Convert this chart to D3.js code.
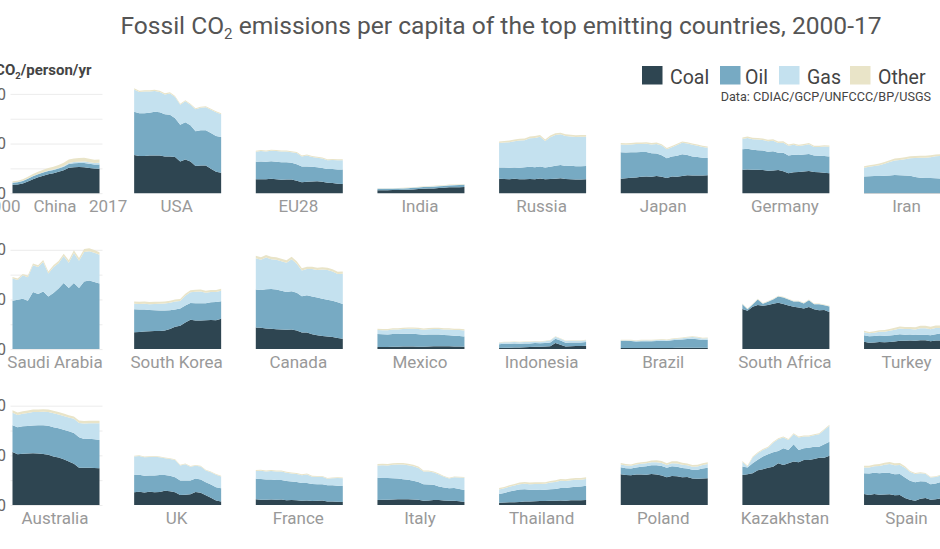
<!DOCTYPE html>
<html><head><meta charset="utf-8">
<script src="https://cdn.jsdelivr.net/npm/d3@7"></script>
<style>
body{margin:0;background:#fff;overflow:hidden}
svg{display:block;font-family:Roboto,"Open Sans",sans-serif}
</style>
</head><body><svg id="chart" width="940" height="549"></svg>
<script>
const years = [2000,2001,2002,2003,2004,2005,2006,2007,2008,2009,2010,2011,2012,2013,2014,2015,2016,2017];
const countries = ["China","USA","EU28","India","Russia","Japan","Germany","Iran",
  "Saudi Arabia","South Korea","Canada","Mexico","Indonesia","Brazil","South Africa","Turkey",
  "Australia","UK","France","Italy","Thailand","Poland","Kazakhstan","Spain"];
const fuels = ["Coal","Oil","Gas","Other"];
const yTickValues = [0,10,20];
const gridValues = [0,5,10,15,20];
const titleText = ["Fossil CO","2"," emissions per capita of the top emitting countries, 2000-17"];
const unitText = ["tCO","2","/person/yr"];
const sourceText = "Data: CDIAC/GCP/UNFCCC/BP/USGS";

const coal = {
  "China":[1.68,1.75,1.95,2.35,2.8,3.2,3.5,3.8,4.0,4.3,4.6,5.15,5.25,5.3,5.25,5.1,4.95,4.9],
  "USA":[7.7,7.5,7.5,7.6,7.6,7.6,7.4,7.4,7.3,6.4,6.8,6.4,5.5,5.6,5.6,4.9,4.3,4.1],
  "EU28":[2.8,2.8,2.8,2.9,2.8,2.7,2.75,2.75,2.5,2.2,2.3,2.35,2.4,2.3,2.1,2.05,1.9,1.85],
  "India":[0.6,0.6,0.61,0.63,0.66,0.69,0.72,0.77,0.83,0.9,0.93,0.96,1.05,1.1,1.2,1.2,1.22,1.25],
  "Russia":[2.9,2.85,2.8,2.9,2.8,2.8,2.85,2.8,2.95,2.8,2.85,2.9,3.0,2.85,2.8,2.75,2.75,2.8],
  "Japan":[2.9,3.0,3.1,3.15,3.3,3.35,3.3,3.45,3.3,3.05,3.35,3.3,3.45,3.6,3.55,3.55,3.55,3.6],
  "Germany":[4.7,4.75,4.7,4.7,4.65,4.5,4.55,4.65,4.4,4.0,4.2,4.25,4.35,4.45,4.25,4.2,4.1,4.0],
  "Iran":[0.05,0.05,0.05,0.05,0.05,0.05,0.05,0.05,0.05,0.05,0.05,0.05,0.05,0.05,0.05,0.05,0.05,0.05],
  "Saudi Arabia":[0,0,0,0,0,0,0,0,0,0,0,0,0,0,0,0,0,0],
  "South Korea":[3.4,3.45,3.55,3.6,3.65,3.65,3.75,4.05,4.5,4.7,5.35,5.9,5.75,5.75,5.8,5.85,5.8,6.1],
  "Canada":[4.35,4.3,4.15,4.1,4.0,3.95,3.9,3.95,3.75,3.35,3.35,3.0,2.8,2.65,2.55,2.45,2.25,2.1],
  "Mexico":[0.4,0.4,0.4,0.45,0.45,0.5,0.5,0.5,0.45,0.45,0.5,0.55,0.55,0.55,0.55,0.5,0.5,0.45],
  "Indonesia":[0.2,0.25,0.25,0.3,0.3,0.35,0.4,0.45,0.45,0.5,0.55,1.25,0.9,0.5,0.55,0.6,0.6,0.65],
  "Brazil":[0.22,0.22,0.22,0.22,0.24,0.24,0.23,0.24,0.24,0.2,0.24,0.25,0.26,0.27,0.28,0.27,0.25,0.27],
  "South Africa":[8.1,7.7,8.55,8.9,8.75,8.9,9.15,9.35,9.1,8.8,8.55,8.4,8.2,8.5,8.05,7.8,7.9,7.45],
  "Turkey":[1.5,1.3,1.35,1.45,1.4,1.45,1.55,1.7,1.7,1.75,1.7,1.8,1.8,1.6,1.75,1.75,1.9,2.0],
  "Australia":[10.7,10.2,10.3,10.35,10.4,10.35,10.25,10.1,9.75,9.55,9.2,8.75,8.3,7.5,7.5,7.5,7.45,7.4],
  "UK":[2.55,2.65,2.5,2.65,2.55,2.6,2.85,2.75,2.55,2.0,2.05,2.15,2.6,2.45,1.95,1.45,0.9,0.7],
  "France":[1.15,1.05,1.05,1.1,1.05,1.1,0.95,1.0,0.95,0.85,0.9,0.8,0.85,0.9,0.7,0.7,0.65,0.6],
  "Italy":[1.0,1.05,1.05,1.1,1.15,1.15,1.15,1.1,1.05,0.85,0.9,1.0,1.0,0.9,0.85,0.85,0.75,0.6],
  "Thailand":[0.45,0.5,0.55,0.55,0.6,0.7,0.7,0.75,0.8,0.8,0.85,0.85,0.9,0.85,0.95,0.95,0.95,1.0],
  "Poland":[6.2,6.05,6.0,6.15,6.15,6.1,6.25,6.15,5.95,5.6,5.85,5.8,5.6,5.65,5.35,5.3,5.35,5.4],
  "Kazakhstan":[6.05,6.2,6.4,7.0,7.2,7.5,7.7,8.4,8.05,8.4,8.75,8.6,9.05,9.05,9.25,9.5,9.5,9.9],
  "Spain":[2.2,2.0,2.2,2.05,2.1,2.15,1.95,2.0,1.4,1.05,0.85,1.25,1.4,1.05,1.15,1.35,1.05,1.2]
};
const oil = {
  "China":[0.45,0.45,0.5,0.55,0.6,0.6,0.65,0.65,0.65,0.65,0.75,0.75,0.8,0.8,0.85,0.85,0.85,0.9],
  "USA":[8.7,8.6,8.6,8.6,8.8,8.7,8.5,8.4,7.8,7.4,7.5,7.3,7.0,7.1,7.1,7.2,7.2,7.2],
  "EU28":[3.55,3.6,3.55,3.55,3.55,3.55,3.5,3.4,3.35,3.2,3.1,3.0,2.85,2.8,2.75,2.8,2.85,2.9],
  "India":[0.28,0.28,0.29,0.28,0.29,0.28,0.29,0.31,0.32,0.33,0.33,0.34,0.36,0.36,0.37,0.4,0.43,0.45],
  "Russia":[2.3,2.35,2.35,2.3,2.35,2.45,2.5,2.45,2.45,2.4,2.5,2.65,2.7,2.65,2.75,2.7,2.7,2.7],
  "Japan":[5.35,5.2,5.15,5.1,5.0,4.95,4.75,4.55,4.35,4.0,4.05,4.25,4.4,4.1,3.85,3.75,3.6,3.5],
  "Germany":[4.15,4.2,4.05,3.95,3.95,3.85,3.9,3.5,3.75,3.6,3.55,3.45,3.45,3.45,3.35,3.35,3.4,3.4],
  "Iran":[3.3,3.35,3.4,3.4,3.45,3.5,3.6,3.55,3.5,3.45,3.2,3.05,3.0,3.0,2.95,2.9,2.95,3.0],
  "Saudi Arabia":[9.75,9.95,10.15,9.75,11.5,11.1,11.6,10.6,11.3,12.2,13.3,12.3,13.3,12.3,13.6,13.8,13.5,13.2],
  "South Korea":[4.65,4.55,4.45,4.3,4.15,4.1,4.0,3.8,3.5,3.5,3.45,3.4,3.5,3.5,3.45,3.6,3.7,3.55],
  "Canada":[7.65,7.6,7.9,8.0,8.0,7.8,7.6,7.7,7.6,7.3,7.5,7.6,7.6,7.5,7.4,7.3,7.2,7.0],
  "Mexico":[2.65,2.6,2.55,2.6,2.6,2.6,2.6,2.6,2.55,2.45,2.45,2.4,2.4,2.3,2.25,2.2,2.15,2.1],
  "Indonesia":[0.8,0.82,0.82,0.82,0.8,0.78,0.75,0.77,0.75,0.75,0.8,0.85,0.85,0.8,0.8,0.75,0.75,0.8],
  "Brazil":[1.45,1.45,1.4,1.32,1.35,1.35,1.35,1.4,1.45,1.42,1.55,1.62,1.68,1.75,1.8,1.7,1.6,1.62],
  "South Africa":[0.95,0.35,0.45,1.1,0.4,0.65,0.85,1.25,1.3,1.2,1.05,1.2,1.0,1.35,1.0,1.25,0.95,1.15],
  "Turkey":[1.3,1.3,1.3,1.3,1.3,1.3,1.3,1.3,1.2,1.2,1.15,1.1,1.1,1.2,1.25,1.4,1.45,1.5],
  "Australia":[5.35,5.45,5.55,5.55,5.6,5.7,5.8,5.85,5.9,5.9,5.95,6.1,6.2,6.15,5.8,5.85,5.8,5.7],
  "UK":[3.5,3.45,3.4,3.3,3.4,3.45,3.2,3.15,3.05,2.95,2.9,2.8,2.75,2.7,2.65,2.7,2.7,2.65],
  "France":[4.15,4.2,4.1,4.05,4.0,3.95,3.9,3.75,3.7,3.6,3.55,3.45,3.35,3.3,3.3,3.3,3.25,3.25],
  "Italy":[4.5,4.4,4.4,4.3,4.2,4.05,3.95,3.8,3.6,3.35,3.25,3.1,2.75,2.6,2.5,2.55,2.45,2.4],
  "Thailand":[1.75,1.9,2.15,2.35,2.5,2.45,2.35,2.3,2.2,2.25,2.3,2.35,2.5,2.55,2.6,2.75,2.8,2.9],
  "Poland":[1.4,1.35,1.35,1.4,1.55,1.7,1.75,1.85,1.9,1.9,1.95,1.9,1.85,1.7,1.75,1.8,2.0,2.1],
  "Kazakhstan":[1.7,1.35,2.0,2.1,2.55,2.7,2.9,2.5,3.4,2.7,3.5,2.5,2.4,2.5,2.5,2.25,2.75,2.85],
  "Spain":[4.2,4.35,4.3,4.35,4.4,4.3,4.25,4.25,4.15,3.85,3.75,3.55,3.35,3.15,3.2,3.25,3.35,3.4]
};
const gas = {
  "China":[0.05,0.05,0.05,0.05,0.05,0.07,0.08,0.1,0.12,0.13,0.15,0.2,0.22,0.25,0.27,0.28,0.3,0.35],
  "USA":[4.5,4.3,4.4,4.3,4.2,4.1,4.0,4.3,4.3,4.0,4.2,4.1,4.4,4.5,4.6,4.7,4.8,4.6],
  "EU28":[2.0,2.1,2.05,2.1,2.15,2.15,2.15,2.1,2.25,2.0,2.2,1.95,1.9,1.9,1.8,1.85,1.9,1.9],
  "India":[0.04,0.04,0.04,0.04,0.04,0.05,0.05,0.05,0.05,0.06,0.08,0.08,0.07,0.06,0.06,0.06,0.06,0.07],
  "Russia":[4.9,5.0,5.1,5.25,5.45,5.4,5.7,5.85,5.95,5.3,5.9,6.15,6.15,6.0,5.85,5.85,5.9,5.85],
  "Japan":[1.55,1.55,1.55,1.65,1.6,1.65,1.75,1.9,1.95,1.8,1.85,2.15,2.3,2.3,2.35,2.25,2.15,2.05],
  "Germany":[2.05,2.15,2.1,2.15,2.1,2.1,2.1,1.95,2.0,1.95,2.0,1.8,1.85,1.95,1.7,1.75,1.9,1.95],
  "Iran":[1.8,1.95,2.05,2.2,2.45,2.75,2.95,3.1,3.3,3.55,3.85,4.05,4.1,4.2,4.45,4.55,4.65,4.8],
  "Saudi Arabia":[4.45,3.95,4.7,4.7,5.4,5.45,5.95,4.65,5.2,5.1,5.45,5.1,6.05,5.5,5.95,5.9,5.9,5.8],
  "South Korea":[1.1,1.1,1.15,1.15,1.3,1.4,1.45,1.5,1.6,1.5,1.95,2.15,2.3,2.35,2.1,2.05,2.0,2.1],
  "Canada":[6.3,6.1,6.4,6.0,6.0,5.95,5.9,6.45,5.85,5.2,5.3,5.55,5.55,5.9,6.0,5.9,5.7,6.1],
  "Mexico":[0.8,0.8,0.85,0.9,0.9,0.95,1.0,1.0,1.05,1.0,1.05,1.1,1.1,1.1,1.15,1.15,1.2,1.2],
  "Indonesia":[0.3,0.3,0.3,0.3,0.3,0.3,0.3,0.3,0.3,0.35,0.4,0.4,0.35,0.35,0.35,0.35,0.35,0.35],
  "Brazil":[0.08,0.1,0.12,0.14,0.16,0.17,0.17,0.18,0.2,0.15,0.2,0.2,0.25,0.3,0.35,0.35,0.3,0.3],
  "South Africa":[0.05,0.05,0.05,0.05,0.05,0.05,0.05,0.05,0.05,0.05,0.05,0.05,0.05,0.05,0.05,0.05,0.05,0.05],
  "Turkey":[0.6,0.6,0.65,0.75,0.8,0.95,1.05,1.15,1.15,1.1,1.1,1.3,1.3,1.2,1.25,1.1,1.0,1.1],
  "Australia":[2.55,2.5,2.55,2.65,2.75,2.7,2.75,2.8,2.85,2.8,2.8,2.75,2.85,2.85,3.1,3.1,3.2,3.35],
  "UK":[3.7,3.75,3.7,3.7,3.75,3.55,3.35,3.35,3.45,3.0,3.25,2.75,2.55,2.6,2.35,2.45,2.5,2.4],
  "France":[1.55,1.65,1.6,1.7,1.7,1.7,1.65,1.6,1.6,1.55,1.7,1.45,1.5,1.5,1.3,1.4,1.55,1.55],
  "Italy":[2.45,2.55,2.5,2.7,2.8,2.95,2.9,2.9,2.8,2.55,2.6,2.45,2.4,2.2,2.0,2.2,2.35,2.5],
  "Thailand":[0.9,0.95,1.0,1.05,1.1,1.15,1.15,1.2,1.25,1.25,1.4,1.45,1.5,1.45,1.45,1.4,1.35,1.35],
  "Poland":[0.55,0.55,0.55,0.6,0.6,0.6,0.6,0.6,0.6,0.55,0.6,0.65,0.65,0.65,0.6,0.65,0.7,0.75],
  "Kazakhstan":[0.9,0.2,1.15,1.3,1.35,1.35,1.95,2.35,2.15,2.0,2.0,2.5,2.35,2.25,2.3,2.5,2.85,3.2],
  "Spain":[1.15,1.2,1.3,1.45,1.6,1.8,1.8,1.8,1.95,1.75,1.65,1.6,1.55,1.35,1.3,1.35,1.35,1.45]
};
const other = {
  "China":[0.25,0.27,0.3,0.35,0.4,0.45,0.5,0.55,0.55,0.6,0.65,0.7,0.7,0.75,0.75,0.7,0.65,0.65],
  "USA":[0.25,0.25,0.25,0.25,0.25,0.25,0.25,0.25,0.2,0.2,0.2,0.2,0.2,0.2,0.2,0.2,0.2,0.2],
  "EU28":[0.22,0.22,0.22,0.22,0.22,0.22,0.22,0.22,0.22,0.2,0.2,0.2,0.2,0.2,0.2,0.2,0.2,0.2],
  "India":[0.05,0.05,0.06,0.06,0.06,0.07,0.07,0.08,0.08,0.09,0.09,0.1,0.1,0.1,0.1,0.1,0.1,0.1],
  "Russia":[0.3,0.3,0.35,0.35,0.35,0.35,0.35,0.4,0.35,0.3,0.35,0.35,0.35,0.35,0.35,0.35,0.35,0.35],
  "Japan":[0.3,0.3,0.3,0.3,0.3,0.3,0.3,0.3,0.28,0.25,0.25,0.25,0.27,0.28,0.28,0.27,0.27,0.27],
  "Germany":[0.3,0.3,0.3,0.3,0.3,0.3,0.3,0.3,0.3,0.28,0.28,0.28,0.28,0.28,0.28,0.28,0.28,0.28],
  "Iran":[0.3,0.3,0.3,0.35,0.35,0.35,0.4,0.4,0.4,0.4,0.4,0.4,0.4,0.4,0.35,0.35,0.35,0.35],
  "Saudi Arabia":[0.3,0.3,0.3,0.35,0.35,0.35,0.4,0.4,0.4,0.45,0.45,0.5,0.55,0.55,0.6,0.6,0.55,0.5],
  "South Korea":[0.45,0.45,0.45,0.45,0.45,0.4,0.4,0.4,0.4,0.4,0.4,0.4,0.4,0.4,0.4,0.4,0.4,0.4],
  "Canada":[0.5,0.5,0.5,0.5,0.5,0.5,0.5,0.5,0.5,0.45,0.45,0.45,0.45,0.45,0.45,0.45,0.45,0.45],
  "Mexico":[0.25,0.25,0.25,0.25,0.25,0.25,0.25,0.25,0.25,0.25,0.25,0.25,0.25,0.25,0.25,0.25,0.25,0.25],
  "Indonesia":[0.1,0.1,0.1,0.1,0.1,0.1,0.1,0.1,0.1,0.1,0.1,0.1,0.1,0.1,0.1,0.1,0.1,0.1],
  "Brazil":[0.12,0.12,0.12,0.11,0.11,0.11,0.12,0.13,0.15,0.14,0.16,0.17,0.17,0.17,0.17,0.16,0.14,0.14],
  "South Africa":[0.1,0.1,0.1,0.1,0.1,0.1,0.1,0.1,0.1,0.1,0.1,0.1,0.1,0.1,0.1,0.1,0.1,0.1],
  "Turkey":[0.3,0.25,0.3,0.3,0.35,0.35,0.4,0.4,0.4,0.4,0.45,0.5,0.5,0.5,0.5,0.5,0.5,0.5],
  "Australia":[0.5,0.5,0.5,0.5,0.5,0.5,0.5,0.5,0.5,0.5,0.5,0.5,0.5,0.5,0.5,0.5,0.5,0.5],
  "UK":[0.15,0.15,0.15,0.15,0.15,0.15,0.15,0.15,0.15,0.15,0.15,0.15,0.15,0.15,0.15,0.15,0.15,0.15],
  "France":[0.2,0.2,0.2,0.2,0.2,0.2,0.2,0.2,0.2,0.18,0.17,0.17,0.16,0.15,0.15,0.15,0.15,0.15],
  "Italy":[0.3,0.3,0.3,0.3,0.3,0.3,0.3,0.3,0.28,0.22,0.2,0.2,0.17,0.15,0.15,0.15,0.15,0.15],
  "Thailand":[0.3,0.3,0.3,0.3,0.35,0.35,0.35,0.35,0.35,0.3,0.3,0.35,0.35,0.35,0.35,0.35,0.35,0.35],
  "Poland":[0.3,0.3,0.25,0.3,0.3,0.3,0.35,0.4,0.4,0.35,0.4,0.45,0.4,0.35,0.35,0.35,0.35,0.35],
  "Kazakhstan":[0.2,0.2,0.2,0.2,0.2,0.2,0.2,0.2,0.2,0.2,0.2,0.2,0.2,0.2,0.2,0.2,0.2,0.2],
  "Spain":[0.35,0.35,0.35,0.4,0.4,0.4,0.4,0.4,0.3,0.2,0.2,0.2,0.15,0.15,0.15,0.15,0.15,0.15]
};

// ---------- layout & style ----------
const colors = {Coal:"#2e4551", Oil:"#77aac3", Gas:"#c4e1ef", Other:"#e9e4c8"};
const panelW = 87, colStep = 121.65, col0 = 12.5;
const row0 = 193.2, rowStep = 155.9, nCols = 8;
const textGrey = "#999", darkText = "#444";

const svg = d3.select("#chart");
const x = d3.scaleLinear().domain([2000, 2017]).range([0, panelW]);
const y = d3.scaleLinear().domain([0, 20]).range([0, -99.3]);
const fuelSeries = {Coal: coal, Oil: oil, Gas: gas, Other: other};
const stack = d3.stack().keys(fuels);
const area = d3.area().x(d => x(d.data.year)).y0(d => y(d[0])).y1(d => y(d[1]));

// title
const title = svg.append("text").attr("x", 501).attr("y", 34)
  .attr("text-anchor", "middle").attr("fill", "#555").attr("font-size", 24);
title.append("tspan").text(titleText[0]);
title.append("tspan").attr("font-size", 15).attr("dy", 5).text(titleText[1]);
title.append("tspan").attr("dy", -5).text(titleText[2]);
const tw = title.node().getComputedTextLength();
title.attr("font-size", 24 * 762 / tw);

// unit label
const unit = svg.append("text").attr("x", -10).attr("y", 75)
  .attr("fill", darkText).attr("font-size", 15).attr("font-weight", "bold");
unit.append("tspan").text(unitText[0]);
unit.append("tspan").attr("font-size", 9.5).attr("dy", 4).text(unitText[1]);
unit.append("tspan").attr("dy", -4).text(unitText[2]);

// legend
const legendX = [642, 720, 779, 850];
const lg = svg.append("g");
fuels.forEach((f, i) => {
  lg.append("rect").attr("x", legendX[i]).attr("y", 66).attr("width", 20.5).attr("height", 18.5).attr("fill", colors[f]);
  lg.append("text").attr("x", legendX[i] + (f === "Oil" ? 25 : 28)).attr("y", 83.5)
    .attr("fill", darkText).attr("font-size", 19.5).text(f);
});
svg.append("text").attr("x", 931).attr("y", 101).attr("text-anchor", "end")
  .attr("fill", darkText).attr("font-size", 12.6).text(sourceText);

// panels
countries.forEach((c, idx) => {
  const col = idx % nCols, row = Math.floor(idx / nCols);
  const gx = col0 + col * colStep, gy = row0 + row * rowStep;
  const g = svg.append("g").attr("transform", `translate(${gx},${gy})`);
  if (col === 0) {
    const grid = g.append("g").attr("transform", "translate(-2,0)")
      .call(d3.axisLeft(y).tickValues(gridValues).tickSize(-92).tickFormat(""));
    grid.select(".domain").remove();
    grid.selectAll("line").attr("stroke", "#ececec").attr("stroke-width", 1);
    const ax = g.append("g").attr("transform", `translate(${6 - gx},0)`)
      .call(d3.axisLeft(y).tickValues(yTickValues).tickSize(0).tickPadding(0));
    ax.select(".domain").remove();
    ax.selectAll("text").attr("fill", "#666").attr("font-size", 16)
      .attr("font-family", "Roboto, sans-serif");
  }
  const rows = years.map((yr, i) => {
    const o = {year: yr};
    fuels.forEach(f => { o[f] = fuelSeries[f][c][i]; });
    return o;
  });
  const layers = stack(rows);
  g.selectAll("path.layer").data(layers).join("path").attr("class", "layer")
    .attr("d", area).attr("fill", d => colors[d.key]);
  g.append("text").attr("x", panelW / 2 - 1).attr("y", 19).attr("text-anchor", "middle")
    .attr("fill", textGrey).attr("font-size", 17).text(c);
  if (idx === 0) {
    g.append("text").attr("x", x(2000) + 8).attr("y", 19).attr("text-anchor", "end")
      .attr("fill", textGrey).attr("font-size", 17).text(years[0]);
    g.append("text").attr("x", x(2017) - 10.5).attr("y", 19).attr("text-anchor", "start")
      .attr("fill", textGrey).attr("font-size", 17).text(years[years.length - 1]);
  }
});
</script>
</body></html>
